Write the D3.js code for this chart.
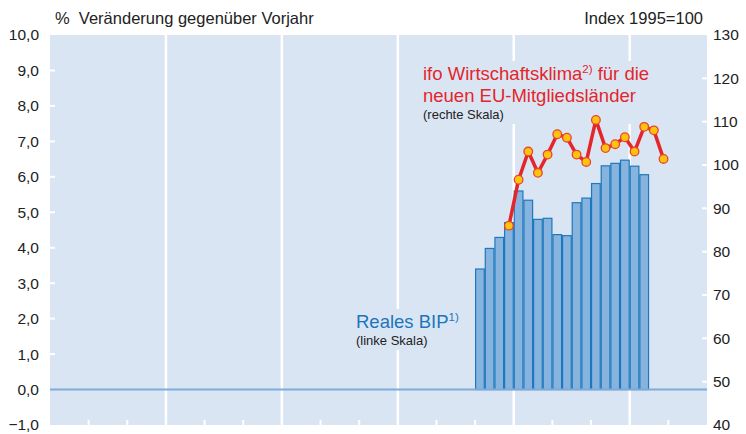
<!DOCTYPE html>
<html>
<head>
<meta charset="utf-8">
<script src="https://cdn.jsdelivr.net/npm/d3@7"></script>
<style>
  html, body { margin: 0; padding: 0; background: #fff; }
  svg { display: block; font-family: "Liberation Sans", Arial, sans-serif; }
</style>
</head>
<body>
<svg id="chart" width="746" height="434"></svg>
<script>
// Time axis: quarters 1992 Q1 .. 2008 Q4 (no labels shown in the chart)
const years = d3.range(1992, 2009);

// Real GDP, new EU member states, % change on previous year (left scale)
const gdpQuarters = [
  '2003 Q1', '2003 Q2', '2003 Q3', '2003 Q4',
  '2004 Q1', '2004 Q2', '2004 Q3', '2004 Q4',
  '2005 Q1', '2005 Q2', '2005 Q3', '2005 Q4',
  '2006 Q1', '2006 Q2', '2006 Q3', '2006 Q4',
  '2007 Q1', '2007 Q2'
];
const gdpValues = [3.40, 3.98, 4.29, 4.71, 5.60, 5.34, 4.80, 4.83, 4.37, 4.34,
                   5.27, 5.40, 5.81, 6.31, 6.38, 6.47, 6.30, 6.06];

// ifo economic climate, index 1995=100 (right scale)
const ifoQuarters = [
  '2003 Q4',
  '2004 Q1', '2004 Q2', '2004 Q3', '2004 Q4',
  '2005 Q1', '2005 Q2', '2005 Q3', '2005 Q4',
  '2006 Q1', '2006 Q2', '2006 Q3', '2006 Q4',
  '2007 Q1', '2007 Q2', '2007 Q3', '2007 Q4'
];
const ifoValues = [86.0, 96.6, 103.1, 98.2, 102.4, 107.1, 106.3, 102.4, 100.7,
                   110.4, 103.9, 104.8, 106.4, 103.1, 108.8, 108.0, 101.4];

const leftTicks = [-1, 0, 1, 2, 3, 4, 5, 6, 7, 8, 9, 10];
const rightTicks = [40, 50, 60, 70, 80, 90, 100, 110, 120, 130];

const allQuarters = [];
years.forEach(y => [1, 2, 3, 4].forEach(q => allQuarters.push(`${y} Q${q}`)));

const plot = { left: 50, right: 707, top: 35, bottom: 425 };
const bg = '#dae5f4';

const svg = d3.select('#chart');

const x = d3.scaleBand().domain(allQuarters).range([plot.left, plot.right]).padding(0);
const yL = d3.scaleLinear().domain([-1, 10]).range([plot.bottom, plot.top]);
const yR = d3.scaleLinear().domain([40, 130]).range([plot.bottom, plot.top]);
const fmt = v => d3.format('.1f')(v).replace('.', ',');

// Plot background
svg.append('rect')
  .attr('x', plot.left).attr('y', plot.top)
  .attr('width', plot.right - plot.left).attr('height', plot.bottom - plot.top)
  .attr('fill', bg);

// Vertical white gridlines every 3 years, short ticks at other years
const gridYears = years.filter(y => y > years[0] && (y - years[0]) % 3 === 0);
const tickYears = years.filter(y => y > years[0] && (y - years[0]) % 3 !== 0);

svg.append('g').selectAll('line')
  .data(gridYears)
  .join('line')
    .attr('x1', d => x(`${d} Q1`)).attr('x2', d => x(`${d} Q1`))
    .attr('y1', plot.top).attr('y2', plot.bottom)
    .attr('stroke', '#fff').attr('stroke-width', 2.5);

svg.append('g').selectAll('line')
  .data(tickYears)
  .join('line')
    .attr('x1', d => x(`${d} Q1`)).attr('x2', d => x(`${d} Q1`))
    .attr('y1', plot.bottom - 5).attr('y2', plot.bottom)
    .attr('stroke', '#fff').attr('stroke-width', 2);

// Left / right inner ticks
svg.append('g').selectAll('line')
  .data(leftTicks.filter(v => v > 0 && v < 10))
  .join('line')
    .attr('x1', plot.left).attr('x2', plot.left + 5)
    .attr('y1', d => yL(d)).attr('y2', d => yL(d))
    .attr('stroke', '#fff').attr('stroke-width', 2);

svg.append('g').selectAll('line')
  .data(rightTicks.filter(v => v > 40 && v < 130))
  .join('line')
    .attr('x1', plot.right - 5).attr('x2', plot.right)
    .attr('y1', d => yR(d)).attr('y2', d => yR(d))
    .attr('stroke', '#fff').attr('stroke-width', 2);

// Labels with background boxes (they hide the gridlines behind them)
function labelBlock(g, lines) {
  lines.forEach(l => {
    const t = g.append('text')
      .attr('x', l.x).attr('y', l.y)
      .attr('font-size', l.size).attr('fill', l.color);
    t.append('tspan').text(l.text);
    if (l.sup) {
      t.append('tspan').attr('dy', -7).attr('font-size', l.size * 0.62).text(l.sup);
      if (l.after) t.append('tspan').attr('dy', 7).text(l.after);
    }
  });
  const box = g.node().getBBox();
  g.insert('rect', ':first-child')
    .attr('x', box.x - 3).attr('y', box.y - 2)
    .attr('width', box.width + 6).attr('height', box.height + 4)
    .attr('fill', bg);
}

labelBlock(svg.append('g'), [
  { x: 423, y: 80, size: 18.5, color: '#e3262b', text: 'ifo Wirtschaftsklima', sup: '2)', after: ' für die' },
  { x: 423, y: 102, size: 18.5, color: '#e3262b', text: 'neuen EU-Mitgliedsländer' },
  { x: 423, y: 119, size: 13, color: '#222', text: '(rechte Skala)' }
]);

labelBlock(svg.append('g'), [
  { x: 356, y: 328, size: 18.5, color: '#1c75bc', text: 'Reales BIP', sup: '1)' },
  { x: 356, y: 345, size: 13, color: '#222', text: '(linke Skala)' }
]);

// Bars
svg.append('g').selectAll('rect')
  .data(gdpQuarters.map((q, i) => ({ q, v: gdpValues[i] })))
  .join('rect')
    .attr('x', d => x(d.q) + 0.5)
    .attr('y', d => yL(d.v))
    .attr('width', x.bandwidth() - 1)
    .attr('height', d => yL(0) - yL(d.v))
    .attr('fill', '#86b4df')
    .attr('stroke', '#1f78bd')
    .attr('stroke-width', 1.2);

// Zero line
svg.append('line')
  .attr('x1', plot.left).attr('x2', plot.right)
  .attr('y1', yL(0)).attr('y2', yL(0))
  .attr('stroke', '#7fabda').attr('stroke-width', 2);

// ifo line
const ifoData = ifoQuarters.map((q, i) => ({ q, v: ifoValues[i] }));
const line = d3.line()
  .x(d => x(d.q) + x.bandwidth() / 2)
  .y(d => yR(d.v));

svg.append('path')
  .datum(ifoData)
  .attr('d', line)
  .attr('fill', 'none')
  .attr('stroke', '#e3262b')
  .attr('stroke-width', 3.5)
  .attr('stroke-linejoin', 'round');

svg.append('g').selectAll('circle')
  .data(ifoData)
  .join('circle')
    .attr('cx', d => x(d.q) + x.bandwidth() / 2)
    .attr('cy', d => yR(d.v))
    .attr('r', 4.3)
    .attr('fill', '#ffc20e')
    .attr('stroke', '#e8452c')
    .attr('stroke-width', 1.3);

// Axis labels
svg.append('g').selectAll('text')
  .data(leftTicks)
  .join('text')
    .attr('x', 39).attr('y', d => yL(d))
    .attr('dy', '0.35em')
    .attr('text-anchor', 'end')
    .attr('font-size', 15.5).attr('fill', '#222')
    .text(d => fmt(d));

svg.append('g').selectAll('text')
  .data(rightTicks)
  .join('text')
    .attr('x', 713).attr('y', d => yR(d))
    .attr('dy', '0.35em')
    .attr('font-size', 15.5).attr('fill', '#222')
    .text(d => d);

// Titles
svg.append('text')
  .attr('x', 55).attr('y', 24)
  .attr('font-size', 16.5).attr('fill', '#222')
  .attr('xml:space', 'preserve')
  .text('%  Veränderung gegenüber Vorjahr');

svg.append('text')
  .attr('x', 703).attr('y', 24)
  .attr('text-anchor', 'end')
  .attr('font-size', 16.5).attr('fill', '#222')
  .text('Index 1995=100');
</script>
</body>
</html>
